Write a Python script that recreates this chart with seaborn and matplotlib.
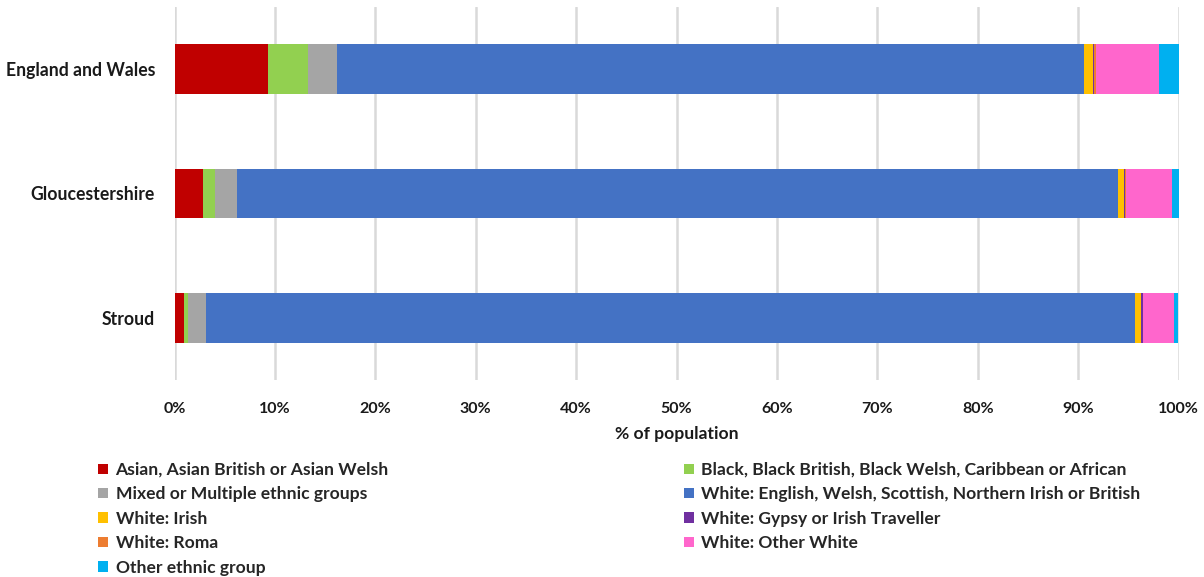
import matplotlib
matplotlib.use("Agg")
import matplotlib.pyplot as plt
import seaborn as sns
import pandas as pd
import numpy as np
from matplotlib.patches import Patch

areas = ["England and Wales", "Gloucestershire", "Stroud"]
groups = [
    "Asian, Asian British or Asian Welsh",
    "Black, Black British, Black Welsh, Caribbean or African",
    "Mixed or Multiple ethnic groups",
    "White: English, Welsh, Scottish, Northern Irish or British",
    "White: Irish",
    "White: Gypsy or Irish Traveller",
    "White: Roma",
    "White: Other White",
    "Other ethnic group",
]
england_wales = [9.3, 4.0, 2.9, 74.4, 0.9, 0.1, 0.2, 6.2, 2.1]
gloucestershire = [2.8, 1.2, 2.2, 87.8, 0.6, 0.1, 0.1, 4.5, 0.7]
stroud = [0.9, 0.4, 1.8, 92.5, 0.6, 0.2, 0.05, 3.1, 0.4]
colors = ["#C00000", "#92D050", "#A5A5A5", "#4472C4", "#FFC000",
          "#7030A0", "#ED7D31", "#FF66CC", "#00B0F0"]
ticks = [0, 10, 20, 30, 40, 50, 60, 70, 80, 90, 100]

sns.set_theme(style="white")
plt.rcParams["font.family"] = ["Lato", "DejaVu Sans"]
plt.rcParams["font.weight"] = "bold"

df = pd.DataFrame([england_wales, gloucestershire, stroud], columns=groups)
df.insert(0, "area", areas)
cum = df[groups].cumsum(axis=1)
cum.insert(0, "area", areas)

fig = plt.figure(figsize=(12.04, 5.77), dpi=100)
ax = fig.add_axes([174.5 / 1204, 1 - 380 / 577, (1178.7 - 174.5) / 1204, (380 - 7) / 577])

for g, c in reversed(list(zip(groups, colors))):
    sns.barplot(data=cum, x=g, y="area", orient="h", color=c, width=0.4,
                linewidth=0, saturation=1, ax=ax, order=areas)

ax.set_xlim(0, 100)
ax.set_xticks(ticks)
ax.set_xticklabels([f"{t}%" for t in ticks], fontsize=11.5, fontweight="bold", color="#1a1a1a")
ax.tick_params(axis="x", length=0, pad=16)
ax.tick_params(axis="y", length=0, pad=14)
for lab in ax.get_yticklabels():
    lab.set_fontsize(12.7)
    lab.set_fontweight("bold")
    lab.set_color("#1a1a1a")
ax.set_ylabel("")
ax.set_xlabel("% of population", fontsize=12.6, fontweight="bold", color="#1a1a1a", labelpad=7)
ax.xaxis.grid(True, color="#D9D9D9", linewidth=1.8)
ax.yaxis.grid(False)
ax.set_axisbelow(True)
for s in ax.spines.values():
    s.set_visible(False)

handles = {g: Patch(facecolor=c, edgecolor="none") for g, c in zip(groups, colors)}
col1 = [groups[0], groups[2], groups[4], groups[6], groups[8]]
col2 = [groups[1], groups[3], groups[5], groups[7]]
common = dict(loc="upper left", frameon=False, borderpad=0, borderaxespad=0,
              handlelength=0.55, handleheight=0.55, handletextpad=0.45,
              labelspacing=0.48, prop={"size": 12.6, "weight": "bold"})
fig.legend([handles[g] for g in col1], col1, bbox_to_anchor=(98 / 1204, 1 - 462 / 577), **common)
fig.legend([handles[g] for g in col2], col2, bbox_to_anchor=(684 / 1204, 1 - 462 / 577), **common)

fig.savefig("out.png", dpi=100)
